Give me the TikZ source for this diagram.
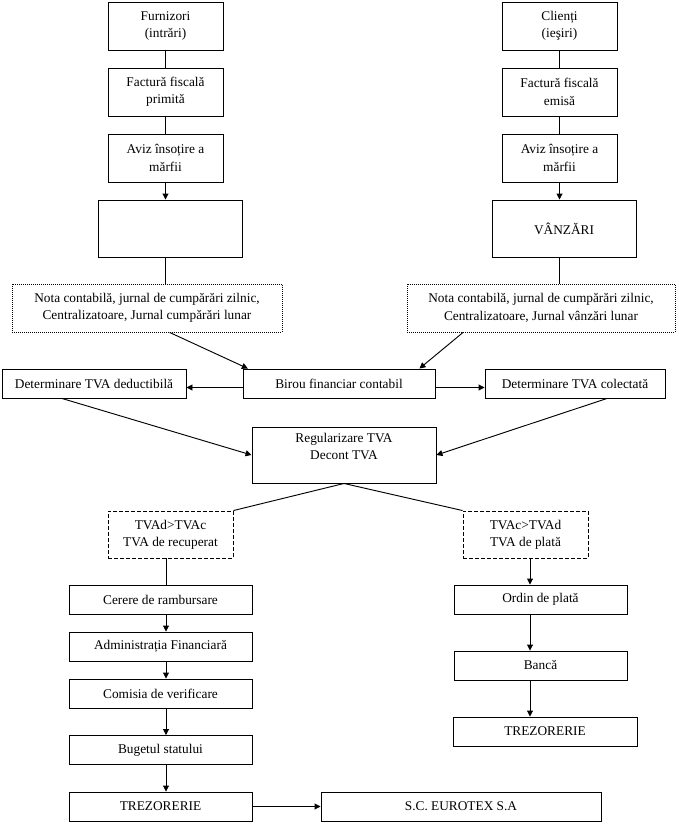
\documentclass[tikz,border=0pt]{standalone}
\usepackage{fontspec}
\setmainfont{Liberation Serif}
\usetikzlibrary{arrows.meta}
\begin{document}
\begin{tikzpicture}
[x=0.75pt, y=-0.75pt,
  boxdecorate/.style={shape=rectangle,draw,line width=0.7pt,inner sep=1pt,
    align=center,font=\fontsize{10}{13}\selectfont},
  boxsize/.style 2 args={minimum width=#1*0.75pt,minimum height=#2*0.75pt},
  dotdecorate/.style={boxdecorate,dash pattern=on 0.75pt off 0.75pt},
  dashdecorate/.style={boxdecorate,dash pattern=on 3pt off 1.5pt},
  linedecorate/.style={-,line width=0.7pt},
  arrowdecorate/.style={-{Triangle[length=4.5pt,width=4.5pt]},line width=0.7pt}]
\useasboundingbox (0,0) rectangle (678,824);
%% nodes or boxes
\foreach \nodename/\x/\y/\txt in {furn/165.5/26/{Furnizori\\(intrări)},
  facp/165.5/92/{Factură fiscală\\primită}, avizp/165.5/158/{Aviz însoțire a\\mărfii},
  clie/559.5/26/{Clienți\\(ieşiri)}, face/559.5/92/{Factură fiscală\\emisă},
  avize/559.5/158/{Aviz însoțire a\\mărfii}}
{
  \node (\nodename) at (\x,\y) [boxdecorate,boxsize={115}{48}] {\txt};
}
\node (empty) at (170,228.5) [boxdecorate,boxsize={144}{57}] {};
\node (vanz) at (564,228.5) [boxdecorate,boxsize={144}{57}] {VÂNZĂRI};
\node (notap) at (147,308) [dotdecorate,boxsize={270}{48}]
  {Nota contabilă, jurnal de cumpărări zilnic,\\Centralizatoare, Jurnal cumpărări lunar};
\node (notae) at (541,308) [dotdecorate,boxsize={268}{48}]
  {Nota contabilă, jurnal de cumpărări zilnic,\\Centralizatoare, Jurnal vânzări lunar};
\node (deduct) at (94,383.5) [boxdecorate,boxsize={184}{29}] {Determinare TVA  deductibilă};
\node (birou) at (339,383.5) [boxdecorate,boxsize={192}{29}] {Birou financiar contabil};
\node (colect) at (575,383.5) [boxdecorate,boxsize={180}{29}] {Determinare TVA  colectată};
\node (regul) at (344,455) [boxdecorate,boxsize={184}{56}] {Regularizare TVA\\Decont TVA\\[0pt]};
\node (tvad) at (170.5,534.5) [dashdecorate,boxsize={125}{47}] {TVAd>TVAc\\TVA de recuperat};
\node (tvac) at (525.5,534.5) [dashdecorate,boxsize={125}{47}] {TVAc>TVAd\\TVA de plată};
\foreach \nodename/\y/\txt in {cerere/599.5/Cerere de rambursare,
  admin/646.5/Administrația Financiară, comisia/693.5/Comisia de verificare,
  buget/750/Bugetul statului, trezl/806.5/TREZORERIE}
{
  \node (\nodename) at (160.5,\y) [boxdecorate,boxsize={183}{29}] {\txt};
}
\foreach \nodename/\y/\txt in {ordin/599.5/Ordin de plată, banca/665.5/Bancă}
{
  \node (\nodename) at (540.5,\y) [boxdecorate,boxsize={173}{29}] {\txt};
}
\node (trezr) at (545,731.5) [boxdecorate,boxsize={184}{29}] {TREZORERIE};
\node (eurotex) at (461,806.5) [boxdecorate,boxsize={280}{29}] {S.C. EUROTEX S.A};
\coordinate (colL) at (166,0);
\coordinate (colR) at (530,0);
%% edges or lines
\path
\foreach \startnode/\endnode in {furn/facp, facp/avizp, clie/face, face/avize}
{
  (\startnode) edge[linedecorate] (\endnode)
};
\draw[arrowdecorate] (avizp) -- (avizp |- empty.north);
\draw[arrowdecorate] (avize) -- (avize |- vanz.north);
\draw[linedecorate] (avizp |- empty.south) -- (avizp |- notap.north);
\draw[linedecorate] (avize |- vanz.south) -- (avize |- notae.north);
\draw[arrowdecorate] ([xshift=17pt]notap.south) -- ([xshift=4pt]birou.north west);
\draw[arrowdecorate] ([xshift=-58.5pt]notae.south) -- ([xshift=-12pt]birou.north east);
\draw[arrowdecorate] ([yshift=-3pt]birou.west) -- ([yshift=-3pt]deduct.east);
\draw[arrowdecorate] ([yshift=-3pt]birou.east) -- ([yshift=-3pt]colect.west);
\draw[arrowdecorate] ([xshift=-24pt]deduct.south) -- (regul.west);
\draw[arrowdecorate] ([xshift=24pt]colect.south) -- (regul.east);
\draw[linedecorate] (regul.south) -- (tvad.north east);
\draw[linedecorate] (regul.south) -- (tvac.north west);
\draw[linedecorate] (tvad.south -| colL) -- (cerere.north -| colL);
\path
\foreach \startnode/\endnode in {cerere/admin, admin/comisia, comisia/buget, buget/trezl}
{
  (\startnode.south -| colL) edge[arrowdecorate] (\endnode.north -| colL)
};
\path
\foreach \startnode/\endnode in {tvac/ordin, ordin/banca, banca/trezr}
{
  (\startnode.south -| colR) edge[arrowdecorate] (\endnode.north -| colR)
};
\draw[arrowdecorate] (trezl) -- (eurotex);
\end{tikzpicture}
\end{document}
